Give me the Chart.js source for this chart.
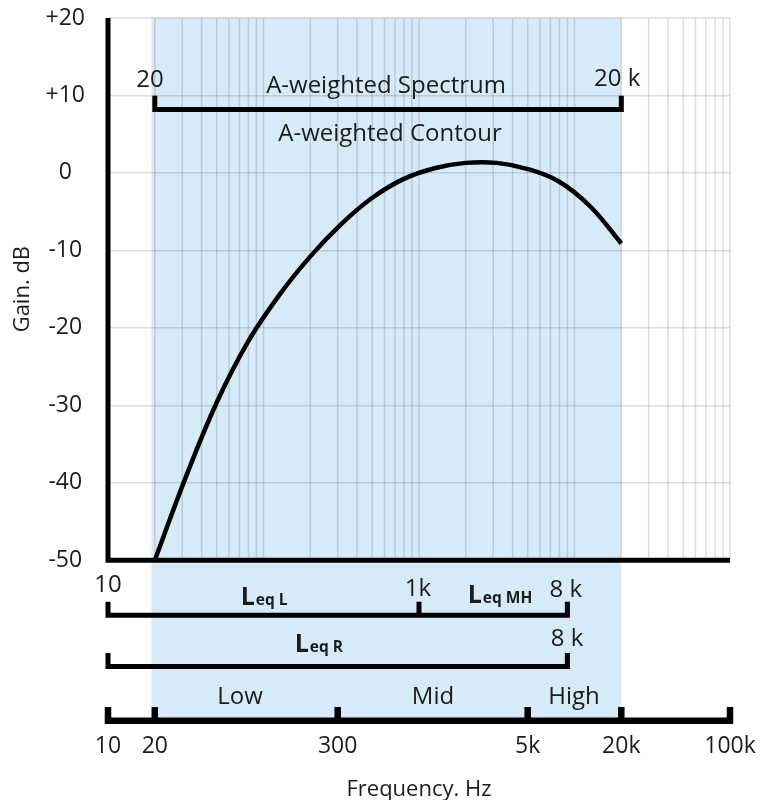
<!DOCTYPE html>
<html>
<head>
<meta charset="utf-8">
<script src="https://cdn.jsdelivr.net/npm/chart.js@4.4.1/dist/chart.umd.min.js"></script>
<style>
  html, body { margin: 0; padding: 0; background: #fff; }
</style>
</head>
<body>
<canvas id="grafico" width="761" height="800"></canvas>
<script>
/* ============================
      DATA
============================ */
// A-weighted contour
const freqs = [20, 31.6, 50.1, 79.4, 125.9, 199.5, 316, 501, 794, 1259, 1995, 3162, 5012, 7943, 12589, 20000];
const gains = [-50, -39.3, -29.6, -21.8, -15.8, -10.8, -6.6, -3.2, -0.8, 0.6, 1.3, 1.3, 0.5, -1.1, -4.3, -9.1];

// axis ticks
const yTicks = [20, 10, 0, -10, -20, -30, -40, -50];
const xTicks = [10, 20, 300, 5000, 20000, 100000];
const xTickLabels = ["10", "20", "300", "5k", "20k", "100k"];

// brackets: A-weighted spectrum, Leq L / MH, Leq R, band axis
const bracketFrom = [20, 10, 10, 10];
const bracketTo = [20000, 9000, 9000, 100000];
const bracketLevel = [8.2, -57.1, -63.7, -70.7];
const bracketMidTicks = [[], [1000], [], [20, 300, 5000, 20000]];

// shaded range
const bandFrom = 19;
const bandTo = 20000;

// plain labels
const noteText = ["20", "20 k", "A-weighted Spectrum", "A-weighted Contour", "10", "1k", "8 k", "8 k", "Low", "Mid", "High"];
const noteFreq = [18.6, 18800, 614, 651, 10, 985, 8800, 8950, 70.6, 1230, 9930];
const noteGain = [12.0, 12.1, 11.2, 5.0, -53.2, -53.7, -53.8, -60.2, -67.6, -67.6, -67.6];

// Leq labels (L + subscript)
const leqSub = ["eq L", "eq MH", "eq R"];
const leqFreq = [101, 3320, 227];
const leqGain = [-55.8, -55.5, -61.8];

/* ============================
      STYLE
============================ */
const fonte = "'Open Sans', 'DejaVu Sans', sans-serif";
const corTexto = "#1c1c1c";
const corGrade = "rgba(0,0,0,0.13)";
const corFaixa = "rgb(214,234,248)";
const tickDb = 1.75;

/* ============================
      DATASETS
============================ */
const curva = freqs.map((f, i) => ({ x: f, y: gains[i] }));

const gradeFreqs = [];
for (let d = 10; d < 100000; d *= 10) {
    for (let m = 1; m < 10; m++) gradeFreqs.push(m * d);
}
gradeFreqs.push(100000);
const grade = [];
gradeFreqs.forEach(f => {
    grade.push({ x: f, y: yTicks[yTicks.length - 1] }, { x: f, y: yTicks[0] }, { x: f, y: null });
});

const eixos = [
    { x: 10, y: yTicks[0] },
    { x: 10, y: yTicks[yTicks.length - 1] },
    { x: 100000, y: yTicks[yTicks.length - 1] }
];

const colchetes = bracketFrom.map((ini, i) => {
    const lv = bracketLevel[i];
    const pts = [
        { x: ini, y: lv + tickDb }, { x: ini, y: lv },
        { x: bracketTo[i], y: lv }, { x: bracketTo[i], y: lv + tickDb }
    ];
    bracketMidTicks[i].forEach(t => {
        pts.push({ x: t, y: null }, { x: t, y: lv }, { x: t, y: lv + tickDb });
    });
    return {
        data: pts,
        borderColor: "#000",
        borderWidth: i === 3 ? 6.5 : 5,
        borderJoinStyle: "miter",
        borderCapStyle: "butt",
        pointRadius: 0,
        tension: 0,
        clip: false
    };
});

/* ============================
      PLUGIN: band + labels
============================ */
const anotacoes = {
    id: "anotacoes",
    beforeDraw(chart) {
        const { ctx, scales: { x, y } } = chart;
        const x0 = x.getPixelForValue(bandFrom);
        const x1 = x.getPixelForValue(bandTo);
        const y0 = y.getPixelForValue(yTicks[0]);
        const y1 = y.getPixelForValue(bracketLevel[3]);
        ctx.save();
        ctx.fillStyle = corFaixa;
        ctx.fillRect(x0, y0, x1 - x0, y1 - y0);
        ctx.restore();
    },
    afterDatasetsDraw(chart) {
        const { ctx, scales: { x, y } } = chart;
        ctx.save();
        ctx.fillStyle = corTexto;
        ctx.textAlign = "center";
        ctx.textBaseline = "middle";
        ctx.font = "24px " + fonte;
        noteText.forEach((t, i) => {
            ctx.fillText(t, x.getPixelForValue(noteFreq[i]), y.getPixelForValue(noteGain[i]));
        });

        // Leq labels
        ctx.textBaseline = "alphabetic";
        ctx.textAlign = "left";
        leqSub.forEach((s, i) => {
            ctx.font = "bold 25px " + fonte;
            const wL = ctx.measureText("L").width;
            ctx.font = "bold 15.5px " + fonte;
            const wS = ctx.measureText(s).width;
            const cx = x.getPixelForValue(leqFreq[i]);
            const by = y.getPixelForValue(leqGain[i]);
            const sx = cx - (wL + 1 + wS) / 2;
            ctx.font = "bold 25px " + fonte;
            ctx.fillText("L", sx, by);
            ctx.font = "bold 15.5px " + fonte;
            ctx.fillText(s, sx + wL + 1, by);
        });

        // y title
        ctx.font = "22px " + fonte;
        ctx.textAlign = "center";
        ctx.textBaseline = "middle";
        ctx.translate(23, y.getPixelForValue((yTicks[0] + yTicks[yTicks.length - 1]) / 2));
        ctx.rotate(-Math.PI / 2);
        ctx.fillText("Gain. dB", 0, 0);
        ctx.restore();
    }
};

/* ============================
      CHART
============================ */
new Chart(document.getElementById("grafico"), {
    type: "line",
    data: {
        datasets: [
            {
                data: curva,
                borderColor: "#000",
                borderWidth: 4.5,
                pointRadius: 0,
                tension: 0.4,
                clip: false
            },
            {
                data: eixos,
                borderColor: "#000",
                borderWidth: 5,
                borderJoinStyle: "miter",
                pointRadius: 0,
                clip: false
            },
            ...colchetes,
            {
                data: grade,
                borderColor: corGrade,
                borderWidth: 1.5,
                pointRadius: 0,
                spanGaps: false,
                clip: false
            }
        ]
    },
    options: {
        responsive: false,
        animation: false,
        layout: { padding: { left: 0, right: 31, top: 18, bottom: 0 } },
        plugins: {
            legend: { display: false },
            tooltip: { enabled: false }
        },
        scales: {
            x: {
                type: "logarithmic",
                min: 10,
                max: 100000,
                afterBuildTicks: s => { s.ticks = xTicks.map(v => ({ value: v })); },
                afterFit: s => {
                    s.height = 77;
                    s.paddingLeft = 0;
                    s.paddingRight = 0;
                },
                border: { display: false },
                grid: { display: false, drawTicks: false },
                ticks: {
                    autoSkip: false,
                    maxRotation: 0,
                    padding: 10,
                    color: corTexto,
                    font: { family: fonte, size: 23 },
                    callback: (v, i) => xTickLabels[i]
                },
                title: {
                    display: true,
                    text: "Frequency. Hz",
                    color: corTexto,
                    font: { family: fonte, size: 22 },
                    padding: { top: 0, bottom: -3 }
                }
            },
            y: {
                type: "linear",
                min: -71,
                max: 20,
                afterBuildTicks: s => { s.ticks = yTicks.map(v => ({ value: v })); },
                afterFit: s => {
                    s.width = 108;
                    s.paddingTop = 0;
                    s.paddingBottom = 0;
                },
                border: { display: false },
                grid: { color: corGrade, lineWidth: 1.5, drawTicks: false },
                ticks: {
                    padding: 23,
                    crossAlign: "center",
                    color: corTexto,
                    font: { family: fonte, size: 23 },
                    callback: v => (v > 0 ? "+" + v : String(v))
                }
            }
        }
    },
    plugins: [anotacoes]
});
</script>
</body>
</html>
